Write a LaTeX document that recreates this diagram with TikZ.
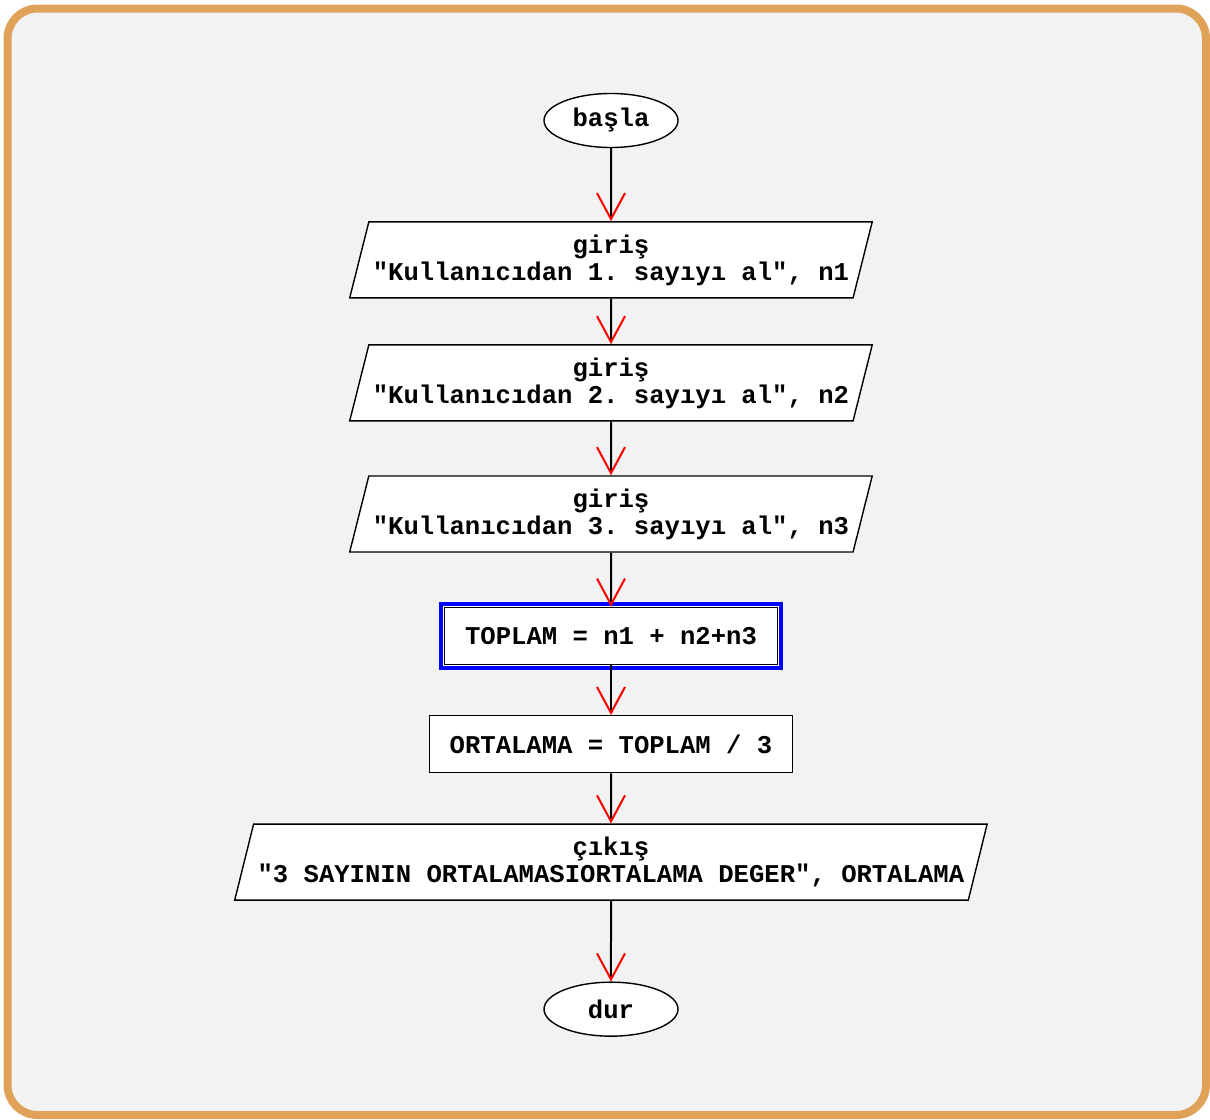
\documentclass[tikz,border=0pt]{standalone}
\usepackage{fontspec}
\setmonofont{Liberation Mono}
\usepackage{tikz}
\usetikzlibrary{shapes.geometric,positioning,arrows.meta}
\definecolor{framecol}{RGB}{224,161,89}
\definecolor{canvas}{RGB}{242,242,242}
\tikzstyle{terminal} = [ellipse, draw, fill=white, 
    minimum width=67pt, minimum height=27pt, inner sep=0pt]
\tikzstyle{io} = [trapezium, trapezium left angle=72, trapezium right angle=108,
    trapezium stretches body, draw, fill=white, align=center, minimum height=38pt, inner sep=2pt]
\tikzstyle{process} = [rectangle, draw, fill=white, minimum height=28.5pt]
\tikzstyle{selected} = [process, preaction={draw=blue, line width=2pt, double=white, double distance=1.2pt}]
\tikzstyle{line} = [draw, line width=1pt, -{Straight Barb[red, length=13pt, width=14pt, line width=1pt]}]

\begin{document}
\begin{tikzpicture}[node distance = 25pt, auto,
    font=\fontsize{12.8}{13.5}\selectfont\ttfamily\bfseries,
    every node/.append style={line width=0.7pt}]
      % frame
      \useasboundingbox (0,0) rectangle (605pt,-559.5pt);
      \draw [framecol, line width=4pt, fill=canvas, rounded corners=15pt]
          (3.75pt,-4.25pt) rectangle (603pt,-557.5pt);
      % steps
      \node [terminal] (start) at (305.5pt,-60.25pt) {başla};
      \node [io, below=36.5pt of start, minimum width=259.5pt] (in1) {giriş\\"Kullanıcıdan 1. sayıyı al", n1};
      \node [io, below=22.8pt of in1, minimum width=259.5pt] (in2) {giriş\\"Kullanıcıdan 2. sayıyı al", n2};
      \node [io, below=26.8pt of in2, minimum width=259.5pt] (in3) {giriş\\"Kullanıcıdan 3. sayıyı al", n3};
      \node [selected, below=27pt of in3, minimum width=166.5pt] (sum) {TOPLAM = n1 + n2+n3};
      \node [process, below=of sum, minimum width=181.5pt] (avg) {ORTALAMA = TOPLAM / 3};
      \node [io, below=of avg, minimum width=375.5pt] (out) {çıkış\\"3 SAYININ ORTALAMASIORTALAMA DEGER", ORTALAMA};
      \node [terminal, below=40.3pt of out] (stop) {dur};
      % Draw edges
      \path [line] (start) -- (in1);
      \path [line] (in1) -- (in2);
      \path [line] (in2) -- (in3);
      \path [line] (in3) -- (sum);
      \path [line] (sum) -- (avg);
      \path [line] (avg) -- (out);
      \path [line] (out) -- (stop);
  \end{tikzpicture}
\end{document}
